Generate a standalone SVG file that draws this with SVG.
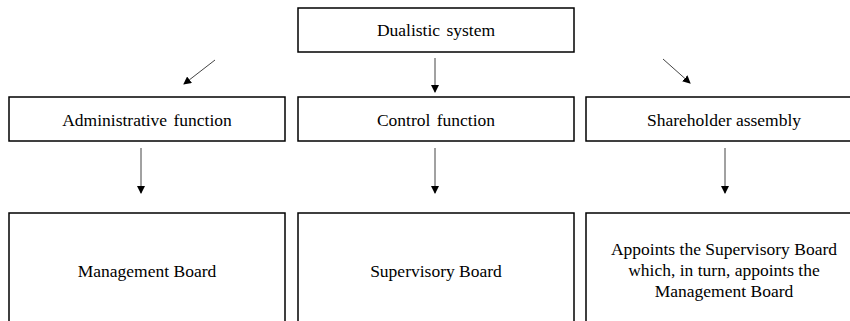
<svg xmlns="http://www.w3.org/2000/svg" width="850" height="321" viewBox="0 0 850 321">
<style>
.box{fill:#fff;stroke:#000;stroke-width:1.5}
.t{font-family:"Liberation Serif","Times New Roman",serif;font-size:17.5px;fill:#000;text-anchor:middle}
.w{word-spacing:2px}
.c{stroke:#444;stroke-width:1;fill:none;marker-end:url(#ah)}
</style>
<defs>
<marker id="ah" markerWidth="8" markerHeight="8" refX="7" refY="4" orient="auto" markerUnits="userSpaceOnUse">
<path d="M0,0 L8,4 L0,8 Z" fill="#000"/>
</marker>
</defs>
<rect width="850" height="321" fill="#fff"/>
<g id="connectors">
<line class="c" x1="215" y1="60" x2="184" y2="84"/>
<line class="c" x1="435" y1="58" x2="435" y2="92"/>
<line class="c" x1="663" y1="59" x2="690" y2="83"/>
<line class="c" x1="141" y1="148" x2="141" y2="193"/>
<line class="c" x1="435" y1="148" x2="435" y2="193"/>
<line class="c" x1="725" y1="148" x2="725" y2="193"/>
</g>
<g id="dualistic">
<rect class="box" x="298" y="8" width="276" height="44"/>
<text class="t w" x="436" y="36">Dualistic system</text>
</g>
<g id="admin">
<rect class="box" x="9" y="97" width="276" height="44"/>
<text class="t w" x="147" y="126">Administrative function</text>
</g>
<g id="control">
<rect class="box" x="298" y="97" width="276" height="44"/>
<text class="t w" x="436" y="126">Control function</text>
</g>
<g id="shareholder">
<rect class="box" x="586" y="97" width="276" height="44"/>
<text class="t" x="724" y="126">Shareholder assembly</text>
</g>
<g id="management">
<rect class="box" x="9" y="213" width="276" height="130"/>
<text class="t" x="147" y="277">Management Board</text>
</g>
<g id="supervisory">
<rect class="box" x="298" y="213" width="276" height="130"/>
<text class="t" x="436" y="277">Supervisory Board</text>
</g>
<g id="appoints">
<rect class="box" x="586" y="213" width="276" height="130"/>
<text class="t" x="724" y="255">Appoints the Supervisory Board</text>
<text class="t" x="724" y="276">which, in turn, appoints the</text>
<text class="t" x="724" y="297">Management Board</text>
</g>
</svg>
